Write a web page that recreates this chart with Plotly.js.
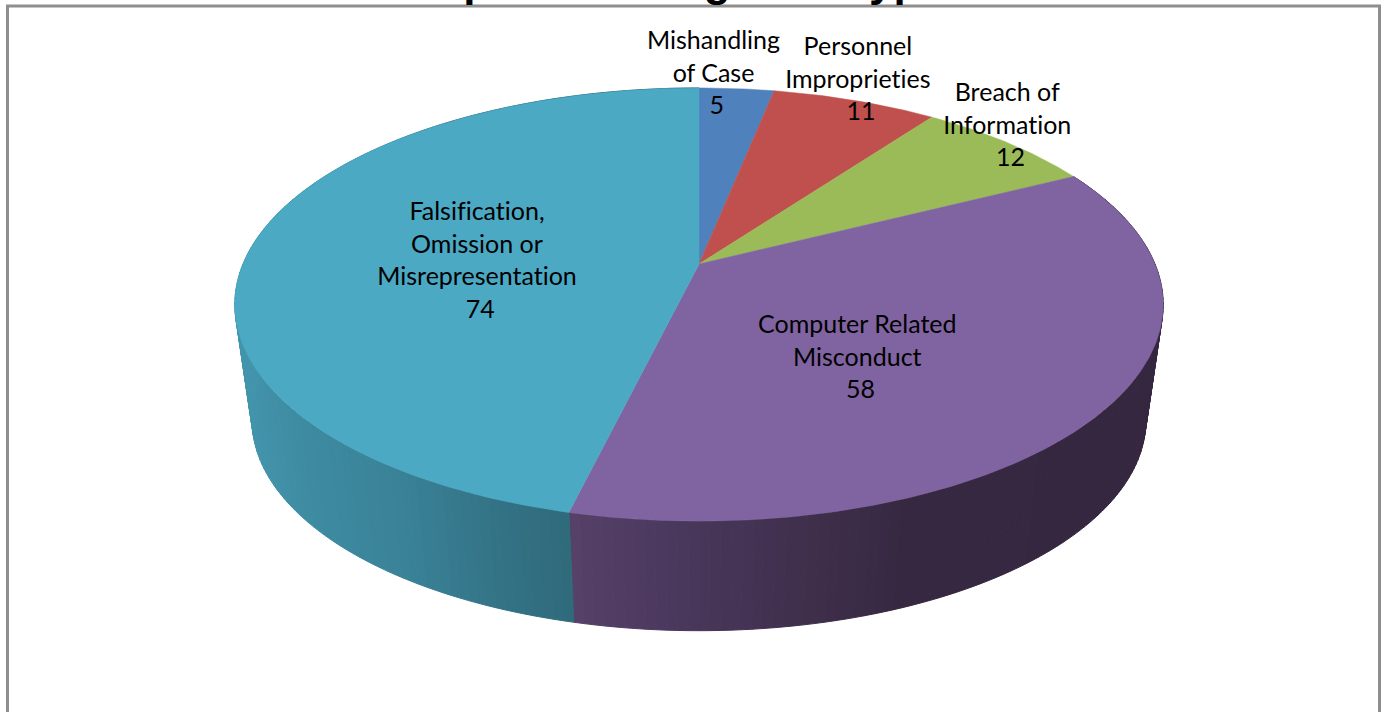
<!DOCTYPE html>
<html>
<head>
<meta charset="utf-8">
<script src="https://cdn.plot.ly/plotly-3.0.1.min.js"></script>
<style>html,body{margin:0;padding:0;background:#fff;overflow:hidden}#chart{width:1385px;height:712px}#chart text{font-variant-ligatures:none;font-feature-settings:"liga" 0}</style>
</head>
<body>
<div id="chart"></div>
<script>
const titleText = "Reprimands Against Type";
const categories = ["Mishandling<br>of Case", "Personnel<br>Improprieties", "Breach of<br>Information", "Computer Related<br>Misconduct", "Falsification,<br>Omission or<br>Misrepresentation"];
const values = [5, 11, 12, 58, 74];
const colors = ["#4F81BD", "#C0504D", "#9BBB59", "#8064A2", "#4BA9C4"];
const labelX = [713, 858, 1007, 857, 477];
const labelY = [71.5, 77.5, 123.5, 355.5, 259];
// Side-wall shade stops: [screen x, r, g, b]
const sideShades = [
  [],[],[],
  [[573,86,65,105],[700,72,54,90],[820,62,46,74],[900,55,40,66],[1165,54,39,64]],
  [[235,68,150,174],[300,62,140,162],[400,58,130,152],[520,50,112,130],[573,47,106,122]]
];
// Perspective-projected disc (pixel-scaled axes)
const topRim = {cx:699, cy:264, a:456, b:209, k:0.187};
const botRim = {cx:699, cy:381, a:439, b:203, k:0.187};
function project(r, th, f){
  const u = Math.sin(th)*f, v = Math.cos(th)*f, d = 1 + r.k*v;
  return [r.cx + r.a*u/d, r.cy - r.b*v/d];
}
function shade(stops, x){
  let s = stops[0];
  for (let i=0;i<stops.length-1;i++){
    const p=stops[i], q=stops[i+1];
    if (x>=p[0] && x<=q[0]){
      const t=(x-p[0])/(q[0]-p[0]);
      s=[x,p[1]+t*(q[1]-p[1]),p[2]+t*(q[2]-p[2]),p[3]+t*(q[3]-p[3])];
      return `rgb(${Math.round(s[1])},${Math.round(s[2])},${Math.round(s[3])})`;
    }
  }
  if (x>stops[stops.length-1][0]) s=stops[stops.length-1];
  return `rgb(${s[1]},${s[2]},${s[3]})`;
}
const total = values.reduce((a,b)=>a+b,0);
const traces = [], faces = [];
let acc = 0;
values.forEach((val,i)=>{
  const a0 = acc/total*2*Math.PI, a1 = (acc+val)/total*2*Math.PI;
  acc += val;
  if (sideShades[i].length){
    const n = Math.ceil(val*2);
    for (let j=0;j<n;j++){
      const t0=a0+(a1-a0)*j/n, t1=a0+(a1-a0)*(j+1)/n;
      const xs=[],ys=[];
      for (const t of [t0,(t0+t1)/2,t1]){const p=project(topRim,t,1);xs.push(p[0]);ys.push(p[1]);}
      for (const t of [t1,(t0+t1)/2,t0]){const p=project(botRim,t,1);xs.push(p[0]);ys.push(p[1]);}
      xs.push(xs[0]);ys.push(ys[0]);
      const c=shade(sideShades[i],(xs[1]+xs[4])/2);
      traces.push({type:"scatter",mode:"lines",x:xs,y:ys,fill:"toself",fillcolor:c,line:{color:c,width:1},hoverinfo:"skip",showlegend:false});
    }
  }
  const xs=[topRim.cx],ys=[topRim.cy];
  const m=Math.ceil(val*3);
  for(let j=0;j<=m;j++){const p=project(topRim,a0+(a1-a0)*j/m,1);xs.push(p[0]);ys.push(p[1]);}
  xs.push(topRim.cx);ys.push(topRim.cy);
  faces.push({type:"scatter",mode:"lines",x:xs,y:ys,fill:"toself",fillcolor:colors[i],line:{color:colors[i],width:0.5},hoverinfo:"skip",showlegend:false});
});
const annotations = categories.map((c,i)=>({
  xref:"x",yref:"y",x:labelX[i],y:labelY[i],text:c+"<br>\u00A0"+values[i],showarrow:false,
  xanchor:"center",yanchor:"middle",align:"center",
  font:{family:"Lato, Carlito, sans-serif",size:25,color:"#000"}
}));
annotations.push({
  xref:"x",yref:"paper",x:676,y:1,yanchor:"bottom",xanchor:"center",yshift:-7,showarrow:false,
  text:"<b>"+titleText+"</b>",font:{family:"Liberation Sans, sans-serif",size:44,color:"#000"}
});
const layout = {
  width:1385,height:712,margin:{l:0,r:0,t:0,b:0},
  paper_bgcolor:"#fff",plot_bgcolor:"#fff",showlegend:false,
  xaxis:{range:[0,1385],visible:false,fixedrange:true},
  yaxis:{range:[712,0],visible:false,fixedrange:true},
  shapes:[{type:"rect",xref:"x",yref:"y",x0:7.5,x1:1379.5,y0:6,y1:740,line:{color:"#8E8E8E",width:3},fillcolor:"rgba(0,0,0,0)",layer:"below"}],
  annotations
};
Plotly.newPlot("chart",traces.concat(faces),layout,{displayModeBar:false,staticPlot:true});
</script>
</body>
</html>
